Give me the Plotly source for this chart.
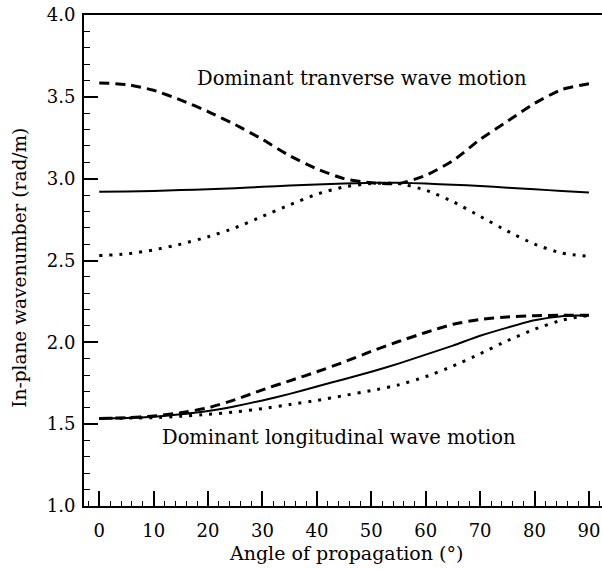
import plotly.graph_objects as go

# Propagation angle (degrees)
angle = [0, 5, 10, 15, 20, 25, 30, 35, 40, 45, 50, 55, 60, 65, 70, 75, 80, 85, 90]

# Upper branch (dominant transverse motion)
trans_dash = [3.585, 3.575, 3.54, 3.48, 3.41, 3.33, 3.24, 3.14, 3.06, 3.00, 2.975,
              2.97, 3.02, 3.11, 3.24, 3.35, 3.46, 3.545, 3.58]
trans_solid = [2.92, 2.922, 2.925, 2.93, 2.935, 2.942, 2.95, 2.958, 2.965, 2.97, 2.975,
               2.975, 2.97, 2.963, 2.955, 2.945, 2.935, 2.925, 2.915]
trans_dot = [2.53, 2.54, 2.565, 2.60, 2.645, 2.70, 2.77, 2.84, 2.905, 2.95, 2.97,
             2.97, 2.93, 2.86, 2.77, 2.68, 2.60, 2.545, 2.525]

# Lower branch (dominant longitudinal motion)
long_dash = [1.535, 1.54, 1.55, 1.57, 1.60, 1.65, 1.71, 1.765, 1.82, 1.88, 1.945,
             2.005, 2.06, 2.11, 2.14, 2.155, 2.163, 2.165, 2.165]
long_solid = [1.535, 1.537, 1.545, 1.56, 1.58, 1.61, 1.645, 1.685, 1.73, 1.775, 1.82,
              1.87, 1.925, 1.98, 2.04, 2.09, 2.135, 2.16, 2.165]
long_dot = [1.535, 1.537, 1.54, 1.548, 1.56, 1.575, 1.595, 1.62, 1.645, 1.675, 1.705,
            1.74, 1.79, 1.855, 1.93, 2.01, 2.08, 2.135, 2.165]

x_ticks = [0, 10, 20, 30, 40, 50, 60, 70, 80, 90]
y_ticks = [1.0, 1.5, 2.0, 2.5, 3.0, 3.5, 4.0]
y_ticklabels = ["1.0", "1.5", "2.0", "2.5", "3.0", "3.5", "4.0"]

FONT = "DejaVu Serif"
DASH = "10px,6px"
DOT = "3px,7px"

fig = go.Figure()
series = [
    (trans_dash, DASH, 3), (trans_solid, "solid", 2), (trans_dot, DOT, 3),
    (long_dash, DASH, 3), (long_solid, "solid", 2), (long_dot, DOT, 3),
]
for ys, dash, w in series:
    fig.add_trace(go.Scatter(
        x=angle, y=ys, mode="lines",
        line=dict(color="black", width=w, dash=dash, shape="spline", smoothing=0.6),
        showlegend=False, hoverinfo="skip",
    ))

fig.update_layout(
    width=602, height=569,
    margin=dict(l=84, r=0, t=15, b=63),
    paper_bgcolor="white", plot_bgcolor="white",
    font=dict(family=FONT, size=18, color="black"),
    showlegend=False,
)

fig.update_xaxes(
    range=[-2.8, 92.4], showgrid=False, zeroline=False,
    showline=True, linecolor="black", linewidth=2, mirror=True,
    tickmode="array", tickvals=x_ticks,
    ticks="inside", ticklen=15, tickwidth=1.5, tickcolor="black",
    ticklabelstandoff=7,
    minor=dict(dtick=2, tick0=0, ticks="inside", ticklen=5, tickwidth=1.2, tickcolor="black"),
    tickfont=dict(family=FONT, size=18),
)
fig.update_yaxes(
    range=[1.0, 4.0], showgrid=False, zeroline=False,
    showline=True, linecolor="black", linewidth=2, mirror=False,
    tickmode="array", tickvals=y_ticks, ticktext=y_ticklabels,
    ticks="inside", ticklen=14, tickwidth=1.5, tickcolor="black",
    ticklabelstandoff=3,
    minor=dict(dtick=0.1, tick0=1.0, ticks="inside", ticklen=6, tickwidth=1.2, tickcolor="black"),
    tickfont=dict(family=FONT, size=18),
)

fig.add_annotation(x=48.3, y=3.609, text="Dominant tranverse wave motion",
                   showarrow=False, font=dict(family=FONT, size=19.5))
fig.add_annotation(x=44.0, y=1.416, text="Dominant longitudinal wave motion",
                   showarrow=False, font=dict(family=FONT, size=19.5))

fig.add_annotation(xref="paper", yref="paper", x=0.506, y=-0.0957,
                   text="Angle of propagation (°)", showarrow=False,
                   xanchor="center", yanchor="middle", font=dict(family=FONT, size=19))
fig.add_annotation(xref="paper", yref="paper", x=-0.1236, y=0.485,
                   text="In-plane wavenumber (rad/m)", showarrow=False, textangle=-90,
                   xanchor="center", yanchor="middle", font=dict(family=FONT, size=18.5))

fig.write_html("out.html")
